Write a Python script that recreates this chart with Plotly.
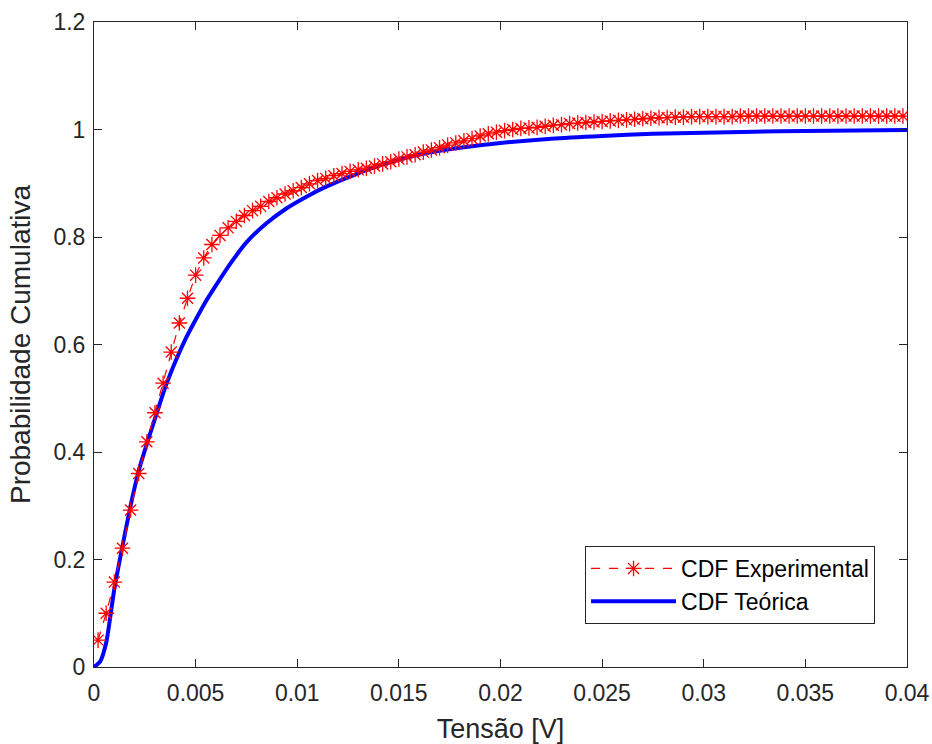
import plotly.graph_objects as go

# Experimental CDF (bin centres, step 0.0004 V)
x_exp = [round(0.0002 + 0.0004 * i, 6) for i in range(100)]
y_exp = [
    0.050, 0.100, 0.158, 0.221, 0.292, 0.360, 0.419, 0.473, 0.528, 0.586,
    0.640, 0.686, 0.729, 0.761, 0.786, 0.803, 0.817, 0.829, 0.840, 0.849,
    0.857, 0.866, 0.873, 0.880, 0.886, 0.892, 0.899, 0.905, 0.909, 0.914,
    0.918, 0.922, 0.925, 0.928, 0.932, 0.936, 0.940, 0.945, 0.949, 0.953,
    0.958, 0.962, 0.966, 0.971, 0.975, 0.979, 0.983, 0.988, 0.992, 0.995,
    0.998, 1.000, 1.002, 1.003, 1.004, 1.006, 1.008, 1.009, 1.011, 1.012,
    1.013, 1.014, 1.015, 1.016, 1.017, 1.018, 1.019, 1.020, 1.021, 1.022,
    1.022, 1.023, 1.023, 1.024, 1.024, 1.024, 1.024, 1.024, 1.024, 1.025,
    1.025, 1.025, 1.025, 1.025, 1.025, 1.025, 1.025, 1.025, 1.025, 1.025,
    1.025, 1.025, 1.025, 1.025, 1.025, 1.025, 1.025, 1.025, 1.025, 1.025,
]

# Theoretical CDF
x_teo = [0, 0.0003, 0.0006, 0.001, 0.0014, 0.0018, 0.0022, 0.0026, 0.003,
         0.0035, 0.004, 0.0045, 0.005, 0.0055, 0.006, 0.0067, 0.0075, 0.0085,
         0.0095, 0.0105, 0.0115, 0.0125, 0.0135, 0.015, 0.0165, 0.018, 0.02,
         0.0225, 0.025, 0.0275, 0.03, 0.0325, 0.035, 0.0375, 0.04]
y_teo = [0, 0.010, 0.045, 0.145, 0.225, 0.300, 0.365, 0.415, 0.462,
         0.520, 0.568, 0.610, 0.646, 0.680, 0.710, 0.750, 0.790, 0.826,
         0.854, 0.876, 0.895, 0.911, 0.926, 0.944, 0.957, 0.966, 0.975,
         0.983, 0.988, 0.992, 0.994, 0.996, 0.997, 0.998, 0.999]

x_ticks = [0, 0.005, 0.01, 0.015, 0.02, 0.025, 0.03, 0.035, 0.04]
x_ticktext = ["0", "0.005", "0.01", "0.015", "0.02", "0.025", "0.03", "0.035", "0.04"]
y_ticks = [0, 0.2, 0.4, 0.6, 0.8, 1.0, 1.2]
y_ticktext = ["0", "0.2", "0.4", "0.6", "0.8", "1", "1.2"]

FONT = "Liberation Sans, Arial, Helvetica, sans-serif"
AX = "#262626"

fig = go.Figure()
fig.add_trace(go.Scatter(
    x=x_teo, y=y_teo, mode="lines", name="CDF Teórica",
    line=dict(color="#0000ff", width=4, shape="spline", smoothing=0.6),
))
fig.add_trace(go.Scatter(
    x=x_exp, y=y_exp, mode="lines+markers", name="CDF Experimental",
    line=dict(color="#ff0000", width=1.2, dash="dash"),
    marker=dict(symbol="asterisk-open", size=13, color="#ff0000",
                line=dict(color="#ff0000", width=1.3)),
))

axis_common = dict(
    showline=True, linecolor=AX, linewidth=1, mirror="ticks",
    ticks="inside", ticklen=8, tickwidth=1, tickcolor=AX,
    showgrid=False, zeroline=False, automargin=False,
    tickfont=dict(family=FONT, size=23, color=AX),
)

fig.update_layout(
    width=932, height=744,
    margin=dict(l=94, r=25, t=22, b=77),
    paper_bgcolor="white", plot_bgcolor="white",
    font=dict(family=FONT, color=AX),
    showlegend=True,
    legend=dict(
        x=0.9607, xanchor="right", y=0.0667, yanchor="bottom",
        bgcolor="white", bordercolor=AX, borderwidth=1,
        font=dict(family=FONT, size=23, color="black"),
        traceorder="reversed", itemwidth=85,
    ),
    xaxis=dict(
        range=[0, 0.04], tickvals=x_ticks, ticktext=x_ticktext,
        ticklabelstandoff=5,
        title=dict(text="Tensão [V]", font=dict(family=FONT, size=27, color=AX), standoff=16),
        **axis_common,
    ),
    yaxis=dict(
        range=[0, 1.2], tickvals=y_ticks, ticktext=y_ticktext,
        ticklabelstandoff=3,
        title=dict(text="Probabilidade Cumulativa", font=dict(family=FONT, size=28, color=AX), standoff=14),
        **axis_common,
    ),
)

fig.write_html("out.html")
